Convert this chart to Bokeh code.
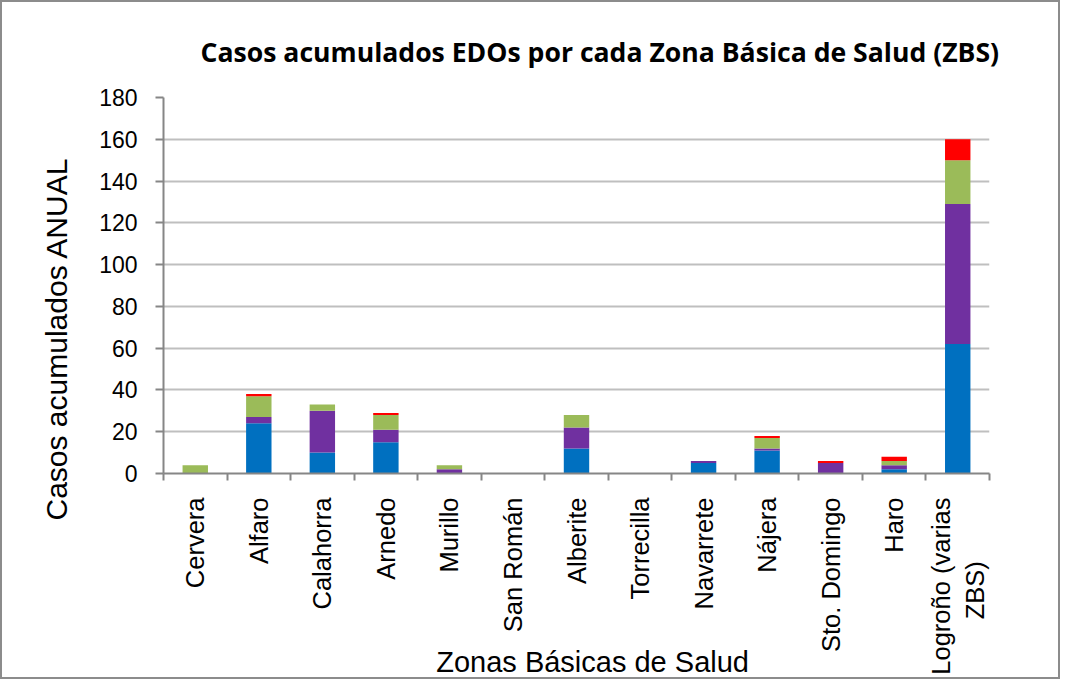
import math
from bokeh.plotting import figure
from bokeh.models import Range1d, FixedTicker, Title
from bokeh.embed import file_html
from bokeh.resources import INLINE

NBSP = "\u00a0"
zonas = ["Cervera", "Alfaro", "Calahorra", "Arnedo", "Murillo", "San Román",
         "Alberite", "Torrecilla", "Navarrete", "Nájera", "Sto. Domingo", "Haro",
         "Logroño (varias\nZBS)" + NBSP * 9]
serie_azul = [0, 24, 10, 15, 0, 0, 12, 0, 5, 11, 0, 2, 62]
serie_morada = [0, 3, 20, 6, 2, 0, 10, 0, 1, 1, 5, 2, 67]
serie_verde = [4, 10, 3, 7, 2, 0, 6, 0, 0, 5, 0, 2, 21]
serie_roja = [0, 1, 0, 1, 0, 0, 0, 0, 0, 1, 1, 2, 10]
y_ticks = [0, 20, 40, 60, 80, 100, 120, 140, 160, 180]

titulo = "Casos acumulados EDOs por cada Zona Básica de Salud (ZBS)"
eje_y = "Casos acumulados ANUAL"
eje_x = "Zonas Básicas de Salud"

n = len(zonas)
pos = [i + 0.5 for i in range(n)]
data = dict(x=pos, azul=serie_azul, morada=serie_morada, verde=serie_verde, roja=serie_roja)

p = figure(width=1060, height=679, output_backend="svg", toolbar_location=None,
           x_range=Range1d(0, n), y_range=Range1d(0, 180),
           min_border_left=161, min_border_right=73, min_border_top=95, min_border_bottom=208)
p.styles = {"border": "2px solid #8c8c8c"}
p.outline_line_color = None
p.background_fill_color = "white"
p.border_fill_color = "white"

p.vbar_stack(["azul", "morada", "verde", "roja"], x="x", width=0.4, source=data,
             color=["#0070C0", "#7030A0", "#9BBB59", "#FF0000"], line_color=None)

# title
p.title = Title(text=titulo, align="left", offset=37, standoff=55,
                text_font="Open Sans", text_font_style="bold", text_font_size="26.6px",
                text_color="black")

# y axis title as a left-side title (positioned like the reference)
p.add_layout(Title(text=eje_y, align="left", offset=-47, standoff=48,
                   text_font="Liberation Sans", text_font_style="normal",
                   text_font_size="30px", text_color="black"), "left")

# y axis
p.yaxis.ticker = FixedTicker(ticks=y_ticks)
p.yaxis.axis_line_color = "#868686"
p.yaxis.axis_line_width = 2
p.yaxis.major_tick_line_color = "#868686"
p.yaxis.major_tick_line_width = 2
p.yaxis.major_tick_out = 8
p.yaxis.major_tick_in = 0
p.yaxis.minor_tick_line_color = None
p.yaxis.major_label_standoff = 18
p.yaxis.major_label_text_font = "Liberation Sans"
p.yaxis.major_label_text_font_size = "23px"
p.yaxis.major_label_text_color = "black"

# x axis
p.xaxis.ticker = FixedTicker(ticks=pos, minor_ticks=list(range(n + 1)))
p.xaxis.major_label_overrides = {x: z for x, z in zip(pos, zonas)}
p.xaxis.major_label_orientation = math.pi / 2
p.xaxis.axis_line_color = "#868686"
p.xaxis.axis_line_width = 2
p.xaxis.major_tick_out = 0
p.xaxis.major_tick_in = 0
p.xaxis.major_tick_line_color = None
p.xaxis.minor_tick_line_color = "#868686"
p.xaxis.minor_tick_line_width = 2
p.xaxis.minor_tick_out = 7
p.xaxis.minor_tick_in = 0
p.xaxis.major_label_standoff = 17
p.xaxis.major_label_text_font = "Liberation Sans"
p.xaxis.major_label_text_font_size = "25.5px"
p.xaxis.major_label_text_color = "black"
p.xaxis.axis_label = NBSP * 4 + eje_x
p.xaxis.axis_label_text_font = "Liberation Sans"
p.xaxis.axis_label_text_font_size = "29px"
p.xaxis.axis_label_text_font_style = "normal"
p.xaxis.axis_label_text_color = "black"
p.xaxis.axis_label_standoff = -32

p.xgrid.grid_line_color = None
p.ygrid.grid_line_color = "#BFBFBF"
p.ygrid.grid_line_width = 2

open("out.html", "w").write(file_html(p, INLINE))
